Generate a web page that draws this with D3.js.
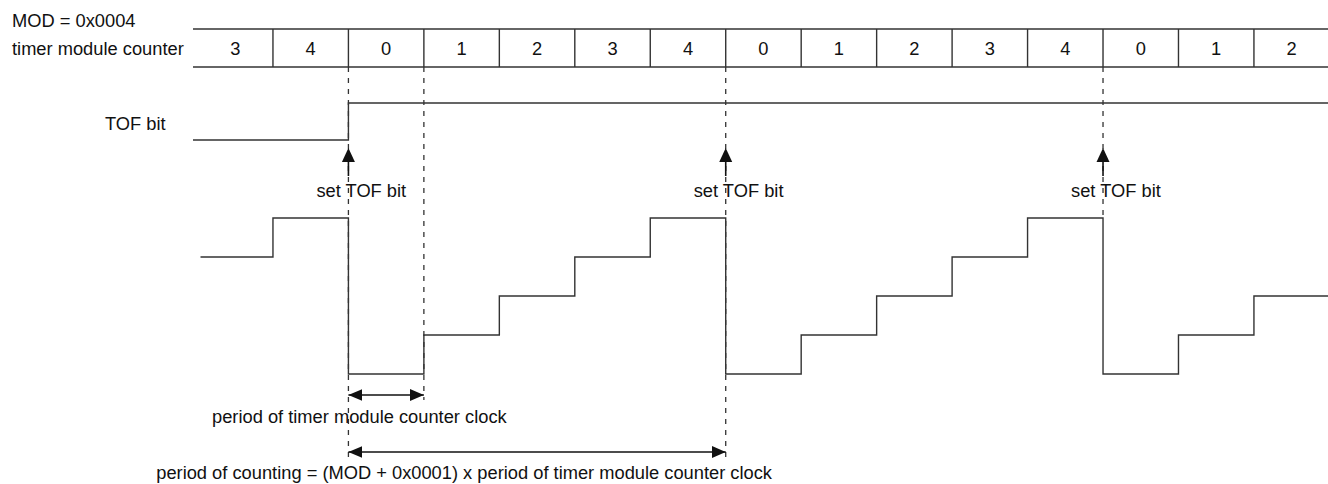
<!DOCTYPE html>
<html>
<head>
<meta charset="utf-8">
<script src="https://cdn.jsdelivr.net/npm/d3@7"></script>
<style>
  body { margin: 0; background: #fff; }
  svg { display: block; font-family: "Liberation Sans", Arial, Helvetica, sans-serif; }
  text { fill: #111; font-size: 18.3px; }
  .sig { fill: none; stroke: #333; stroke-width: 1.4; }
  .dash { stroke: #333; stroke-width: 1.3; stroke-dasharray: 5,6; }
</style>
</head>
<body>
<svg width="1328" height="484"></svg>
<script>
// counter value shown in each clock cell
var counterValues = [3, 4, 0, 1, 2, 3, 4, 0, 1, 2, 3, 4, 0, 1, 2];
// TOF flag level during each cell
var tofBit = [0, 0, 1, 1, 1, 1, 1, 1, 1, 1, 1, 1, 1, 1, 1];
var modLabel = "MOD = 0x0004";
var rowLabel = "timer module counter";
var tofLabel = "TOF bit";
var setLabel = "set TOF bit";
var clockLabel = "period of timer module counter clock";
var countLabel = "period of counting = (MOD + 0x0001) x period of timer module counter clock";

var svg = d3.select("svg");

var x = d3.scaleLinear().domain([0, counterValues.length]).range([197.5, 197.5 + 75.46 * counterValues.length]);
var yCount = d3.scaleLinear().domain([0, 4]).range([374, 218]);
var yTof = d3.scaleLinear().domain([0, 1]).range([140, 103]);

// overflow points: where counter wraps back to 0
var overflow = [];
counterValues.forEach(function (v, i) {
    if (i > 0 && v == 0) overflow.push(i);
});

var defs = svg.append("defs");
defs.append("marker")
    .attr("id", "head")
    .attr("markerUnits", "userSpaceOnUse")
    .attr("viewBox", "0 0 14 12")
    .attr("refX", 14).attr("refY", 6)
    .attr("markerWidth", 14).attr("markerHeight", 12)
    .attr("orient", "auto-start-reverse")
    .append("path")
    .attr("d", "M0,0L14,6L0,12Z")
    .attr("fill", "#111");

// labels on the left
svg.append("text").attr("x", 12).attr("y", 27).text(modLabel);
svg.append("text").attr("x", 12).attr("y", 55).text(rowLabel);
svg.append("text").attr("x", 105).attr("y", 130).text(tofLabel);

// counter row
var rowTop = 29, rowBot = 67;
svg.append("line").attr("class", "sig").attr("x1", 193).attr("x2", 1328).attr("y1", rowTop).attr("y2", rowTop);
svg.append("line").attr("class", "sig").attr("x1", 193).attr("x2", 1328).attr("y1", rowBot).attr("y2", rowBot);
svg.selectAll(".cellsep")
    .data(d3.range(1, counterValues.length))
    .enter().append("line")
    .attr("class", "sig cellsep")
    .attr("x1", function (d) { return x(d); })
    .attr("x2", function (d) { return x(d); })
    .attr("y1", rowTop).attr("y2", rowBot);
svg.selectAll(".cnt")
    .data(counterValues)
    .enter().append("text")
    .attr("class", "cnt")
    .attr("x", function (d, i) { return (x(i) + x(i + 1)) / 2; })
    .attr("y", 55)
    .attr("text-anchor", "middle")
    .text(function (d) { return d; });

// dashed guide lines
var guides = [
    { i: overflow[0], y2: 457 },
    { i: overflow[0] + 1, y2: 400 },
    { i: overflow[1], y2: 457 },
    { i: overflow[2], y2: 216 }
];
svg.selectAll(".dash")
    .data(guides)
    .enter().append("line")
    .attr("class", "dash")
    .attr("x1", function (d) { return x(d.i); })
    .attr("x2", function (d) { return x(d.i); })
    .attr("y1", rowBot)
    .attr("y2", function (d) { return d.y2; });

// TOF bit waveform
var tofPts = tofBit.map(function (v, i) { return [i == 0 ? 193 : x(i), yTof(v)]; });
tofPts.push([1328, yTof(tofBit[tofBit.length - 1])]);
svg.append("path")
    .attr("class", "sig")
    .attr("d", d3.line().curve(d3.curveStepAfter)(tofPts));

// counter staircase
var cntPts = counterValues.map(function (v, i) { return [i == 0 ? x(0) + 3 : x(i), yCount(v)]; });
cntPts.push([1328, yCount(counterValues[counterValues.length - 1])]);
svg.append("path")
    .attr("class", "sig")
    .attr("d", d3.line().curve(d3.curveStepAfter)(cntPts));

// set TOF bit arrows
var setG = svg.selectAll(".setTof")
    .data(overflow)
    .enter().append("g")
    .attr("class", "setTof")
    .attr("transform", function (d) { return "translate(" + x(d) + ",0)"; });
setG.append("path")
    .attr("d", "M0,148L6.5,162L-6.5,162Z")
    .attr("fill", "#111");
setG.append("line")
    .attr("stroke", "#111").attr("stroke-width", 1.6)
    .attr("x1", 0).attr("x2", 0).attr("y1", 161).attr("y2", 176);
setG.append("text")
    .attr("x", -32).attr("y", 197)
    .text(setLabel);

// period arrows
svg.append("line")
    .attr("stroke", "#111").attr("stroke-width", 1.6)
    .attr("x1", x(overflow[0])).attr("x2", x(overflow[0] + 1))
    .attr("y1", 395).attr("y2", 395)
    .attr("marker-start", "url(#head)")
    .attr("marker-end", "url(#head)");
svg.append("text").attr("x", 212).attr("y", 423).text(clockLabel);

svg.append("line")
    .attr("stroke", "#111").attr("stroke-width", 1.6)
    .attr("x1", x(overflow[0])).attr("x2", x(overflow[1]))
    .attr("y1", 452).attr("y2", 452)
    .attr("marker-start", "url(#head)")
    .attr("marker-end", "url(#head)");
svg.append("text").attr("x", 772).attr("y", 479).attr("text-anchor", "end").text(countLabel);
</script>
</body>
</html>
